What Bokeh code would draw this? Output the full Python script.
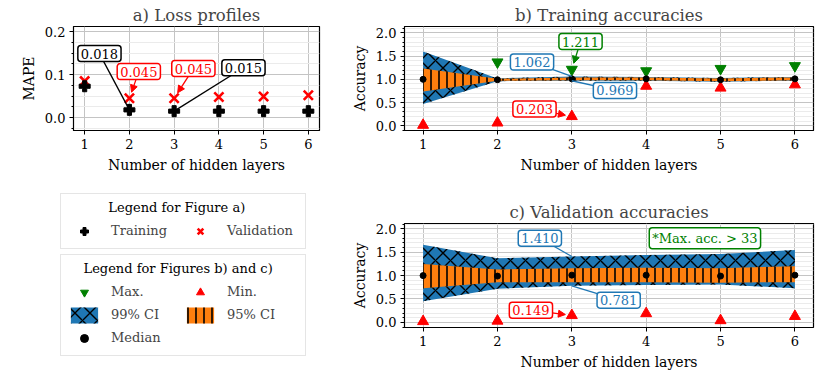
import math
from bokeh.plotting import figure
from bokeh.models import (FixedTicker, Label, Arrow, NormalHead, Legend, LegendItem,
                          Range1d, PrintfTickFormatter)
from bokeh.layouts import row, column
from bokeh.embed import file_html
from bokeh.resources import INLINE

FONT = "DejaVu Serif"
BLUE = "#1f77b4"
ORANGE = "#ff7f0e"
GREEN = "#008000"
RED = "#ff0000"
nan = float("nan")

# ---------------- data ----------------
layers = [1, 2, 3, 4, 5, 6]
x_ticks = [1, 2, 3, 4, 5, 6]

# a) Loss profiles (MAPE)
mape_train = [0.073, 0.018, 0.015, 0.015, 0.015, 0.015]
mape_val = [0.085, 0.045, 0.045, 0.048, 0.049, 0.052]
y_ticks_a = [0.0, 0.1, 0.2]

# b) Training accuracies
train_median = [1.00, 0.99, 1.01, 1.01, 0.99, 1.01]
train_ci99_low = [0.47, 0.96, 0.969, 0.97, 0.95, 0.97]
train_ci99_high = [1.60, 1.02, 1.062, 1.05, 1.03, 1.05]
train_ci95_low = [0.74, 0.97, 0.98, 0.98, 0.96, 0.98]
train_ci95_high = [1.23, 1.01, 1.04, 1.04, 1.02, 1.04]
train_max = [nan, 1.37, 1.211, 1.18, 1.23, 1.29]
train_min = [0.015, 0.065, 0.203, 0.855, 0.815, 0.885]

# c) Validation accuracies
val_median = [1.00, 0.99, 1.01, 1.01, 0.99, 1.01]
val_ci99_low = [0.45, 0.72, 0.781, 0.80, 0.81, 0.73]
val_ci99_high = [1.66, 1.37, 1.410, 1.44, 1.46, 1.55]
val_ci95_low = [0.73, 0.86, 0.86, 0.86, 0.85, 0.86]
val_ci95_high = [1.25, 1.13, 1.16, 1.17, 1.16, 1.20]
val_min = [0.02, 0.03, 0.149, 0.19, 0.04, 0.13]
y_ticks_acc = [0.0, 0.5, 1.0, 1.5, 2.0]

# annotations: (text, colour, text x, text y, target x, target y, arrowhead)
ann_a = [
    ("0.018", "black", 1.33, 0.149, 2, mape_train[1], False),
    ("0.045", RED, 2.21, 0.107, 2, mape_val[1], True),
    ("0.045", RED, 3.43, 0.114, 3, mape_val[2], True),
    ("0.015", "black", 4.55, 0.116, 3, mape_train[2], False),
]
ann_b = [
    ("1.062", BLUE, 2.465, 1.37, 3, train_ci99_high[2], False),
    ("0.969", BLUE, 3.58, 0.76, 3, train_ci99_low[2], False),
    ("1.211", GREEN, 3.117, 1.81, 3, train_max[2], True),
    ("0.203", RED, 2.498, 0.36, 3, train_min[2], True),
]
ann_c = [
    ("1.410", BLUE, 2.57, 1.80, 3, val_ci99_high[2], False),
    ("0.781", BLUE, 3.63, 0.475, 3, val_ci99_low[2], False),
    ("0.149", RED, 2.45, 0.26, 3, val_min[2], True),
]
note_c = ("*Max. acc. > 33", GREEN, 4.79, 1.80)

legend_a_title = "Legend for Figure a)"
legend_bc_title = "Legend for Figures b) and c)"

XR = (0.75, 6.25)


def make_fig(width, height, left, right, top, bottom, yr, title):
    p = figure(width=width, height=height, x_range=Range1d(*XR), y_range=Range1d(*yr),
               output_backend="svg", toolbar_location=None,
               min_border_left=left, min_border_right=right,
               min_border_top=top, min_border_bottom=bottom)
    p.title.text = title
    p.title.align = "center"
    p.title.text_font = FONT
    p.title.text_font_size = "16.5px"
    p.title.text_font_style = "normal"
    p.title.standoff = 3
    p.outline_line_color = "black"
    p.outline_line_width = 1.2
    p.outline_line_alpha = 1
    p.xaxis.ticker = FixedTicker(ticks=x_ticks, minor_ticks=[])
    for ax in (p.xaxis[0], p.yaxis[0]):
        ax.major_tick_in = 0
        ax.major_tick_out = 4
        ax.minor_tick_in = 0
        ax.minor_tick_out = 2
        ax.axis_line_color = "black"
        ax.major_tick_line_color = "black"
        ax.minor_tick_line_color = "black"
        ax.major_label_text_font = FONT
        ax.major_label_text_font_size = "13px"
        ax.major_label_text_color = "black"
        ax.axis_label_text_font = FONT
        ax.axis_label_text_font_size = "14px"
        ax.axis_label_text_font_style = "normal"
        ax.axis_label_text_color = "black"
        ax.axis_label_standoff = 5
        ax.major_label_standoff = 4
    p.xaxis.axis_label = "Number of hidden layers"
    p.yaxis.formatter = PrintfTickFormatter(format="%.1f")
    p.xgrid.grid_line_color = "#c4c4c4"
    p.ygrid.grid_line_color = "#c4c4c4"
    p.ygrid.minor_grid_line_color = "#ebebeb"
    return p


def make_label(text, col, tx, ty):
    return Label(x=tx, y=ty, text=text, text_font=FONT, text_font_size="13px",
                 text_color=col, text_align="center", text_baseline="middle",
                 background_fill_color="white", background_fill_alpha=1.0,
                 border_line_color=col, border_line_width=1.5, padding=3,
                 border_radius=3)


def add_annotations(p, anns, yr, fw, fh):
    sx = fw / (XR[1] - XR[0])
    sy = fh / (yr[1] - yr[0])
    for text, col, tx, ty, gx, gy, head in anns:
        dx = (gx - tx) * sx
        dy = (gy - ty) * sy
        L = math.hypot(dx, dy)
        f = (L - 6.5) / L if head else 1.0
        end = NormalHead(size=7, fill_color=col, line_color=col) if head else None
        p.add_layout(Arrow(x_start=tx, y_start=ty,
                           x_end=tx + (gx - tx) * f, y_end=ty + (gy - ty) * f,
                           end=end, line_color=col, line_width=1.3))
    for text, col, tx, ty, gx, gy, head in anns:
        p.add_layout(make_label(text, col, tx, ty))


# ---------------- a) ----------------
YR_A = (-0.030, 0.212)
pa = make_fig(330, 185, 73, 11, 26, 55, YR_A, "a) Loss profiles")
pa.yaxis.ticker = FixedTicker(ticks=y_ticks_a,
                              minor_ticks=[-0.025, 0.025, 0.05, 0.075, 0.125, 0.15, 0.175])
pa.yaxis.axis_label = "MAPE"
pa.scatter(layers, mape_val, marker="x", size=13, line_color=RED, line_width=2.6)
pa.scatter(layers, mape_train, marker="plus", size=11, color="black")
add_annotations(pa, ann_a, YR_A, 246, 104)

# ---------------- b) ----------------
YR_B = (-0.10, 2.135)
acc_minor = [-0.1] + [round(0.1 * i, 1) for i in range(1, 22) if i % 5 != 0]
pb = make_fig(492, 185, 74, 9, 26, 55, YR_B, "b) Training accuracies")
pb.yaxis.ticker = FixedTicker(ticks=y_ticks_acc, minor_ticks=acc_minor)
pb.yaxis.axis_label = "Accuracy"
pb.varea(layers, train_ci99_low, train_ci99_high, fill_color=BLUE,
         hatch_pattern="x", hatch_color="black", hatch_scale=15, hatch_weight=1.4)
pb.varea(layers, train_ci95_low, train_ci95_high, fill_color=ORANGE,
         hatch_pattern="|", hatch_color="black", hatch_scale=8, hatch_weight=1.6)
pb.scatter(layers, train_max, marker="inverted_triangle", size=11, color=GREEN)
pb.scatter(layers, train_min, marker="triangle", size=11, color=RED)
pb.scatter(layers, train_median, marker="circle", size=6, color="black")
add_annotations(pb, ann_b, YR_B, 409, 104)

# ---------------- c) ----------------
YR_C = (-0.11, 2.115)
pc = make_fig(492, 190, 74, 9, 38, 48, YR_C, "c) Validation accuracies")
pc.yaxis.ticker = FixedTicker(ticks=y_ticks_acc, minor_ticks=acc_minor)
pc.yaxis.axis_label = "Accuracy"
pc.varea(layers, val_ci99_low, val_ci99_high, fill_color=BLUE,
         hatch_pattern="x", hatch_color="black", hatch_scale=15, hatch_weight=1.4)
pc.varea(layers, val_ci95_low, val_ci95_high, fill_color=ORANGE,
         hatch_pattern="|", hatch_color="black", hatch_scale=8, hatch_weight=1.6)
pc.scatter(layers, val_min, marker="triangle", size=11, color=RED)
pc.scatter(layers, val_median, marker="circle", size=6, color="black")
add_annotations(pc, ann_c, YR_C, 409, 104)
pc.add_layout(make_label(*note_c))

# ---------------- legend panel ----------------
pl = figure(width=330, height=190, output_backend="svg", toolbar_location=None,
            x_range=Range1d(0, 1), y_range=Range1d(0, 1), title=None,
            x_axis_location=None, y_axis_location=None,
            min_border_left=0, min_border_right=0, min_border_top=0, min_border_bottom=0)
pl.grid.visible = False
pl.outline_line_color = None

# legend-only renderers (no visible points)
l_tr = pl.scatter([nan], [nan], marker="plus", size=11, color="black")
l_va = pl.scatter([nan], [nan], marker="x", size=13, line_color=RED, line_width=2.6)
l_max = pl.scatter([nan], [nan], marker="inverted_triangle", size=11, color=GREEN)
l_min = pl.scatter([nan], [nan], marker="triangle", size=11, color=RED)
l_99 = pl.varea([nan], [nan], [nan], fill_color=BLUE, hatch_pattern="x",
                hatch_color="black", hatch_scale=15, hatch_weight=1.4)
l_95 = pl.varea([nan], [nan], [nan], fill_color=ORANGE, hatch_pattern="|",
                hatch_color="black", hatch_scale=8, hatch_weight=1.6)
l_med = pl.scatter([nan], [nan], marker="circle", size=6, color="black")


def style_legend(lg, label_width):
    lg.ncols = 2
    lg.border_line_color = "#cccccc"
    lg.border_line_width = 1.2
    lg.background_fill_color = "white"
    lg.background_fill_alpha = 1.0
    lg.padding = 6
    lg.spacing = 0
    lg.margin = 0
    lg.glyph_width = 34
    lg.glyph_height = 20
    lg.label_height = 23
    lg.label_standoff = 10
    lg.label_width = label_width
    lg.label_text_font = FONT
    lg.label_text_font_size = "13px"
    lg.title_text_font = FONT
    lg.title_text_font_size = "13px"
    lg.title_text_font_style = "normal"
    lg.title_text_color = "black"
    lg.title_standoff = 4


NBSP = "\u00a0"  # non-collapsing spaces centre the legend titles
leg1 = Legend(items=[LegendItem(label="Training", renderers=[l_tr]),
                     LegendItem(label="Validation", renderers=[l_va])],
              title=NBSP * 10 + legend_a_title, location=(60, 126))
style_legend(leg1, 72)
leg2 = Legend(items=[LegendItem(label="Max.", renderers=[l_max]),
                     LegendItem(label="99% CI", renderers=[l_99]),
                     LegendItem(label="Median", renderers=[l_med]),
                     LegendItem(label="Min.", renderers=[l_min]),
                     LegendItem(label="95% CI", renderers=[l_95])],
              title=NBSP * 4 + legend_bc_title, location=(60, 19))
style_legend(leg2, 72)
pl.add_layout(leg1)
pl.add_layout(leg2)

# the legend panel is wrapped in its own column so that its frame is not
# aligned with the frame of panel c)
layout = column(row(pa, pb), row(column(pl), pc))
open("out.html", "w").write(file_html(layout, INLINE))
